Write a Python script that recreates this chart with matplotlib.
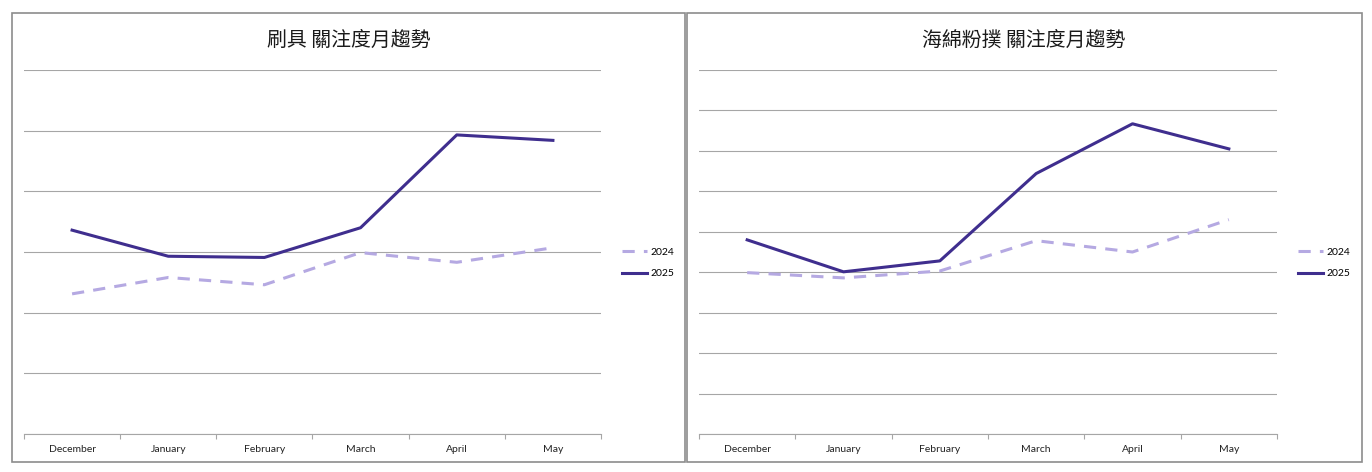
import matplotlib.pyplot as plt
from matplotlib.patches import Rectangle
from matplotlib.ticker import FixedLocator

# Chart data
months = ['December', 'January', 'February', 'March', 'April', 'May']

brush_2024 = [23.1, 25.8, 24.6, 29.9, 28.3, 30.7]
brush_2025 = [33.6, 29.3, 29.1, 34.0, 49.3, 48.4]

sponge_2024 = [39.9, 38.6, 40.3, 47.8, 45.0, 53.0]
sponge_2025 = [48.0, 40.1, 42.8, 64.4, 76.7, 70.5]

titles = ['刷具 關注度月趨勢', '海綿粉撲 關注度月趨勢']

c24 = '#b5a9e2'
c25 = '#3f2e8e'
grid_c = '#a6a6a6'

W, H = 1372, 472
fig = plt.figure(figsize=(W / 100, H / 100), dpi=100)

# panel frames
for x0, x1 in [(12, 685), (687, 1362)]:
    fig.patches.append(Rectangle((x0 / W, 1 - 462 / H), (x1 - x0) / W, 449 / H,
                                 transform=fig.transFigure, fill=False,
                                 edgecolor='#8c8c8c', linewidth=1.2, zorder=0))


def draw(ax, s24, s25, ymax, title, title_x):
    x = list(range(len(months)))
    ax.set_ylim(0, ymax)
    ax.set_xlim(-0.5, len(months) - 0.5)
    ax.set_yticks(range(0, ymax + 1, 10))
    ax.yaxis.grid(True, color=grid_c, linewidth=0.8)
    ax.set_axisbelow(True)
    ax.tick_params(axis='y', left=False, labelleft=False)
    for s in ['top', 'right', 'left']:
        ax.spines[s].set_visible(False)
    ax.spines['bottom'].set_color(grid_c)
    ax.spines['bottom'].set_linewidth(0.8)
    ax.set_xticks(x)
    ax.set_xticklabels(months, fontsize=7.5, family='Lato', color='#222222')
    ax.tick_params(axis='x', length=0, pad=8)
    ax.xaxis.set_minor_locator(FixedLocator([i - 0.5 for i in range(len(months) + 1)]))
    ax.tick_params(axis='x', which='minor', length=3.5, color=grid_c, width=0.8)
    ax.plot(x, s24, color=c24, linewidth=2.2, dashes=(4, 3), label='2024')
    ax.plot(x, s25, color=c25, linewidth=2.2, label='2025')
    ax.legend(loc='center left', bbox_to_anchor=(1.02, 0.47), frameon=False,
              handlelength=2.4, handletextpad=0.3, labelspacing=1.15,
              prop={'family': 'Lato', 'size': 7.5})
    fig.text(title_x, 1 - 40 / H, title, ha='center', va='center',
             fontsize=14.3, family=['Noto Sans CJK TC', 'DejaVu Sans'], color='#1a1a1a')


ax1 = fig.add_axes([24 / W, 1 - 434 / H, 577 / W, 364 / H])
draw(ax1, brush_2024, brush_2025, 60, titles[0], 349 / W)

ax2 = fig.add_axes([699 / W, 1 - 434 / H, 578 / W, 364 / H])
draw(ax2, sponge_2024, sponge_2025, 90, titles[1], 1024 / W)

fig.savefig('out.png', dpi=100, facecolor='white')
